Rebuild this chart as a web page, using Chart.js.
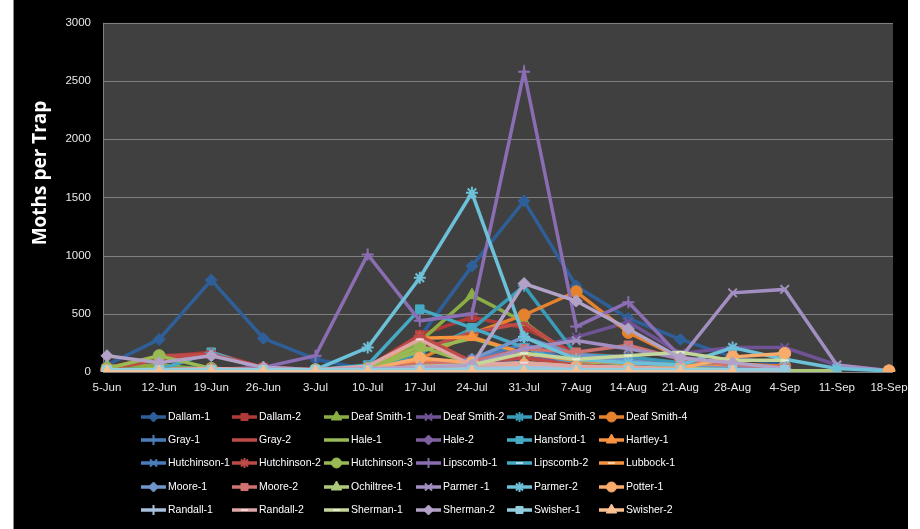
<!DOCTYPE html>
<html>
<head>
<meta charset="utf-8">
<script src="https://cdn.jsdelivr.net/npm/chart.js@4.4.1/dist/chart.umd.min.js"></script>
<style>
html,body{margin:0;padding:0;background:#fff;}
canvas{display:block;}
</style>
</head>
<body>
<canvas id="c" width="920" height="529"></canvas>
<script>
// ---- data ----
const dates = ['5-Jun','12-Jun','19-Jun','26-Jun','3-Jul','10-Jul','17-Jul','24-Jul','31-Jul','7-Aug','14-Aug','21-Aug','28-Aug','4-Sep','11-Sep','18-Sep'];
const yTicks = [0, 500, 1000, 1500, 2000, 2500, 3000];

const dallam1      = [60, 280, 790, 290, 110, 20, 300, 910, 1470, 740, 460, 280, 130, 60, null, null];
const dallam2      = [40, 130, 170, 40, 20, 40, 320, 470, 380, 160, 130, 70, 40, 30, null, null];
const deafSmith1   = [50, 60, 20, 10, 10, 20, 260, 660, 430, 110, 70, 40, 20, 10, null, null];
const deafSmith2   = [10, 10, 10, 10, 10, 20, 60, 110, 190, 300, 430, 160, 210, 210, 60, 10];
const deafSmith3   = [20, 30, 30, 10, 10, 20, 160, 370, 740, 150, 130, 80, 60, 40, null, null];
const deafSmith4   = [20, 20, 20, 10, 10, 20, 110, 330, 490, 690, 340, 120, 70, 50, null, null];
const gray1        = [10, 20, 20, 10, 10, 20, 60, 110, 240, 80, 60, 40, 30, 20, null, null];
const gray2        = [20, 110, 150, 30, 10, 30, 190, 340, 420, 130, 90, 40, 30, 20, null, null];
const hale1        = [20, 30, 20, 10, 10, 30, 180, 290, 160, 80, 50, 30, 20, 10, null, null];
const hale2        = [20, 20, 20, 10, 10, 20, 40, 80, 120, 100, 80, 40, 30, 20, null, null];
const hansford1    = [20, 20, 170, 20, 20, 60, 540, 380, 210, 60, 40, 30, 20, 10, null, null];
const hartley1     = [10, 10, 10, 10, 10, 20, 290, 300, 160, 100, 80, 60, 40, 20, null, null];
const hutchinson1  = [10, 10, 10, 10, 10, 10, 30, 40, 60, 40, 30, 20, 20, 10, null, null];
const hutchinson2  = [30, 140, 150, 40, 20, 40, 310, 90, 120, 60, 40, 30, 20, 10, null, null];
const hutchinson3  = [30, 140, 30, 20, 20, 30, 220, 70, 60, 40, 30, 20, 20, 10, null, null];
const lipscomb1    = [20, 20, 20, 40, 140, 1010, 440, 500, 2580, 390, 600, 130, 60, 40, null, null];
const lipscomb2    = [20, 20, 20, 20, 20, 30, 40, 60, 60, 40, 30, 30, 20, 10, null, null];
const lubbock1     = [10, 10, 10, 10, 10, 20, 100, 50, 40, 30, 20, 20, 10, 10, null, null];
const moore1       = [10, 10, 10, 10, 10, 20, 50, 110, 300, 150, 100, 50, 30, 20, null, null];
const moore2       = [20, 20, 30, 20, 10, 20, 70, 90, 200, 170, 230, 110, 60, 40, null, null];
const ochiltree1   = [10, 10, 10, 10, 10, 10, 50, 60, 80, 50, 40, 30, 20, 10, 10, null];
const parmer1      = [10, 10, 10, 10, 10, 10, 30, 60, 200, 270, 200, 120, 680, 710, 60, 10];
const parmer2      = [10, 10, 10, 10, 20, 210, 810, 1540, 300, 110, 80, 60, 210, 110, 30, 10];
const potter1      = [10, 10, 10, 10, 10, 20, 120, 80, 60, 40, 30, 30, 130, 160, null, 10];
const randall1     = [10, 10, 10, 10, 10, 10, 20, 30, 40, 30, 20, 20, 10, 10, null, null];
const randall2     = [20, 20, 30, 20, 20, 50, 280, 60, 80, 50, 40, 20, 20, 10, null, null];
const sherman1     = [10, 20, 20, 10, 10, 20, 40, 60, 160, 110, 140, 170, 100, 100, null, null];
const sherman2     = [140, 80, 140, 40, 20, 30, 40, 60, 760, 610, 370, 120, 80, 30, null, null];
const swisher1     = [20, 20, 20, 20, 20, 20, 20, 20, 20, 20, 20, 20, 20, 20, null, null];
const swisher2     = [0, 0, 0, 0, 0, 0, 0, 0, 0, 0, 0, 0, 0, null, null, null];

const seriesNames = ['Dallam-1','Dallam-2','Deaf Smith-1','Deaf Smith-2','Deaf Smith-3','Deaf Smith-4',
  'Gray-1','Gray-2','Hale-1','Hale-2','Hansford-1','Hartley-1',
  'Hutchinson-1','Hutchinson-2','Hutchinson-3','Lipscomb-1','Lipscomb-2','Lubbock-1',
  'Moore-1','Moore-2','Ochiltree-1','Parmer -1','Parmer-2','Potter-1',
  'Randall-1','Randall-2','Sherman-1','Sherman-2','Swisher-1','Swisher-2'];
const seriesValues = [dallam1, dallam2, deafSmith1, deafSmith2, deafSmith3, deafSmith4,
  gray1, gray2, hale1, hale2, hansford1, hartley1,
  hutchinson1, hutchinson2, hutchinson3, lipscomb1, lipscomb2, lubbock1,
  moore1, moore2, ochiltree1, parmer1, parmer2, potter1,
  randall1, randall2, sherman1, sherman2, swisher1, swisher2];

// ---- styles ----
const colors = ['#2F5F98','#B03A37','#8AAE44','#6F5394','#3A9CB8','#E5822E',
  '#4A7EBB','#BE4B48','#98B954','#7D60A0','#46AAC5','#F69240',
  '#4A7EBB','#BE4B48','#98B954','#8A6DB2','#46AAC5','#F69240',
  '#7096CC','#CF7270','#AFC97A','#A28EC0','#6CC0D8','#F9AB6B',
  '#A7C0DE','#DFA7A6','#C3D69B','#B3A2C7','#93CDDD','#FAC090'];
const dashTint = ['#BE4B48','#98B954','#46AAC5','#F69240','#DFA7A6','#C3D69B'];
const markerCycle = ['rectRot','rect','triangle','crossRot','star','circle','cross','line','line'];

function lighten(hex, f) {
  const n = parseInt(hex.slice(1), 16);
  const r = (n >> 16) & 255, g = (n >> 8) & 255, b = n & 255;
  const m = v => Math.round(v + (255 - v) * f);
  return 'rgb(' + m(r) + ',' + m(g) + ',' + m(b) + ')';
}

const datasets = seriesValues.map((vals, i) => {
  const ps = markerCycle[i % 9];
  const c = colors[i];
  let pb = c;
  if (ps === 'line') pb = (i === 7 || i === 8) ? c : lighten(c, 0.55);
  return {
    label: seriesNames[i],
    data: vals,
    borderColor: c,
    backgroundColor: c,
    borderWidth: 3.5,
    tension: 0,
    spanGaps: false,
    pointStyle: ps,
    pointRadius: ps === 'triangle' ? 7 : (ps === 'line' ? 4 : 6),
    pointBackgroundColor: c,
    pointBorderColor: pb,
    pointBorderWidth: (ps === 'crossRot' || ps === 'star' || ps === 'cross' || ps === 'line') ? 2 : 1,
    order: 30 - i
  };
});

const legendColX = [141, 232, 324, 416, 507, 599];
const legendRowY = [417, 440, 463, 487, 510];

// pick a legend font that fits the column width
function pickLegendFont(ctx) {
  ctx.save();
  ctx.font = '12px monospace';
  const w0 = ctx.measureText('Hutchinson-1 Deaf Smith').width;
  ctx.font = '12px "Liberation Sans Narrow", monospace';
  const w1 = ctx.measureText('Hutchinson-1 Deaf Smith').width;
  ctx.restore();
  if (Math.abs(w0 - w1) > 0.5) return '12.5px "Liberation Sans Narrow"';
  return '10.5px "Liberation Sans"';
}
let legendFont = null;

const decoPlugin = {
  id: 'deco',
  beforeDraw(chart) {
    const ctx = chart.ctx, a = chart.chartArea, y = chart.scales.y;
    ctx.save();
    ctx.fillStyle = '#ffffff';
    ctx.fillRect(0, 0, chart.width, chart.height);
    ctx.fillStyle = '#000000';
    ctx.fillRect(14, 0, 894, chart.height);
    ctx.fillStyle = '#8a8a8a';
    ctx.fillRect(13, 0, 1, chart.height);
    const L = a.left - 4, R = a.right + 4;
    ctx.fillStyle = '#404040';
    ctx.fillRect(L, a.top, R - L, a.bottom - a.top);
    ctx.strokeStyle = '#7f7f7f';
    ctx.lineWidth = 1;
    yTicks.forEach(v => {
      const py = Math.round(y.getPixelForValue(v)) + 0.5;
      ctx.beginPath(); ctx.moveTo(L, py); ctx.lineTo(R, py); ctx.stroke();
    });
    ctx.beginPath(); ctx.moveTo(L + 0.5, a.top); ctx.lineTo(L + 0.5, a.bottom); ctx.stroke();
    ctx.translate(41, 173);
    ctx.rotate(-Math.PI / 2);
    ctx.fillStyle = '#ffffff';
    ctx.font = 'bold 19px "Open Sans"';
    ctx.textAlign = 'center';
    ctx.textBaseline = 'middle';
    ctx.fillText('Moths per Trap', 0, 0);
    ctx.restore();
  },
  afterDraw(chart) {
    const ctx = chart.ctx;
    if (!legendFont) legendFont = pickLegendFont(ctx);
    ctx.save();
    chart.data.datasets.forEach((ds, i) => {
      const x0 = legendColX[i % 6], yy = legendRowY[Math.floor(i / 6)];
      ctx.strokeStyle = ds.borderColor;
      ctx.lineWidth = 3.5;
      ctx.beginPath(); ctx.moveTo(x0, yy); ctx.lineTo(x0 + 25, yy); ctx.stroke();
      ctx.fillStyle = ds.pointBackgroundColor;
      ctx.strokeStyle = ds.pointBorderColor;
      ctx.lineWidth = ds.pointBorderWidth;
      const r = ds.pointStyle === 'triangle' ? 6 : (ds.pointStyle === 'line' ? 3.5 : 5);
      Chart.helpers.drawPoint(ctx, {pointStyle: ds.pointStyle, radius: r, rotation: 0, borderWidth: ds.pointBorderWidth}, x0 + 12.5, yy);
      ctx.fillStyle = '#ffffff';
      ctx.font = legendFont;
      ctx.textAlign = 'left';
      ctx.textBaseline = 'middle';
      ctx.fillText(ds.label, x0 + 27, yy);
    });
    ctx.restore();
  }
};

new Chart(document.getElementById('c'), {
  type: 'line',
  data: { labels: dates, datasets: datasets },
  options: {
    responsive: false,
    animation: false,
    events: [],
    layout: { padding: { top: 15, right: 31, left: 0, bottom: 0 } },
    plugins: { legend: { display: false }, tooltip: { enabled: false }, title: { display: false } },
    scales: {
      x: {
        offset: false,
        grid: { display: false, drawTicks: false },
        border: { display: false },
        ticks: { color: '#e8e8e8', font: { family: 'Liberation Sans', size: 11.5 }, padding: 9, maxRotation: 0, autoSkip: false },
        afterFit(s) { s.height = 157; }
      },
      y: {
        min: 0, max: 3000,
        grid: { display: false, drawTicks: false },
        border: { display: false },
        ticks: { stepSize: 500, color: '#e8e8e8', font: { family: 'Liberation Sans', size: 11.5 }, padding: 16,
                 callback: v => String(v) },
        afterFit(s) { s.width = 107; }
      }
    }
  },
  plugins: [decoPlugin]
});
</script>
</body>
</html>
